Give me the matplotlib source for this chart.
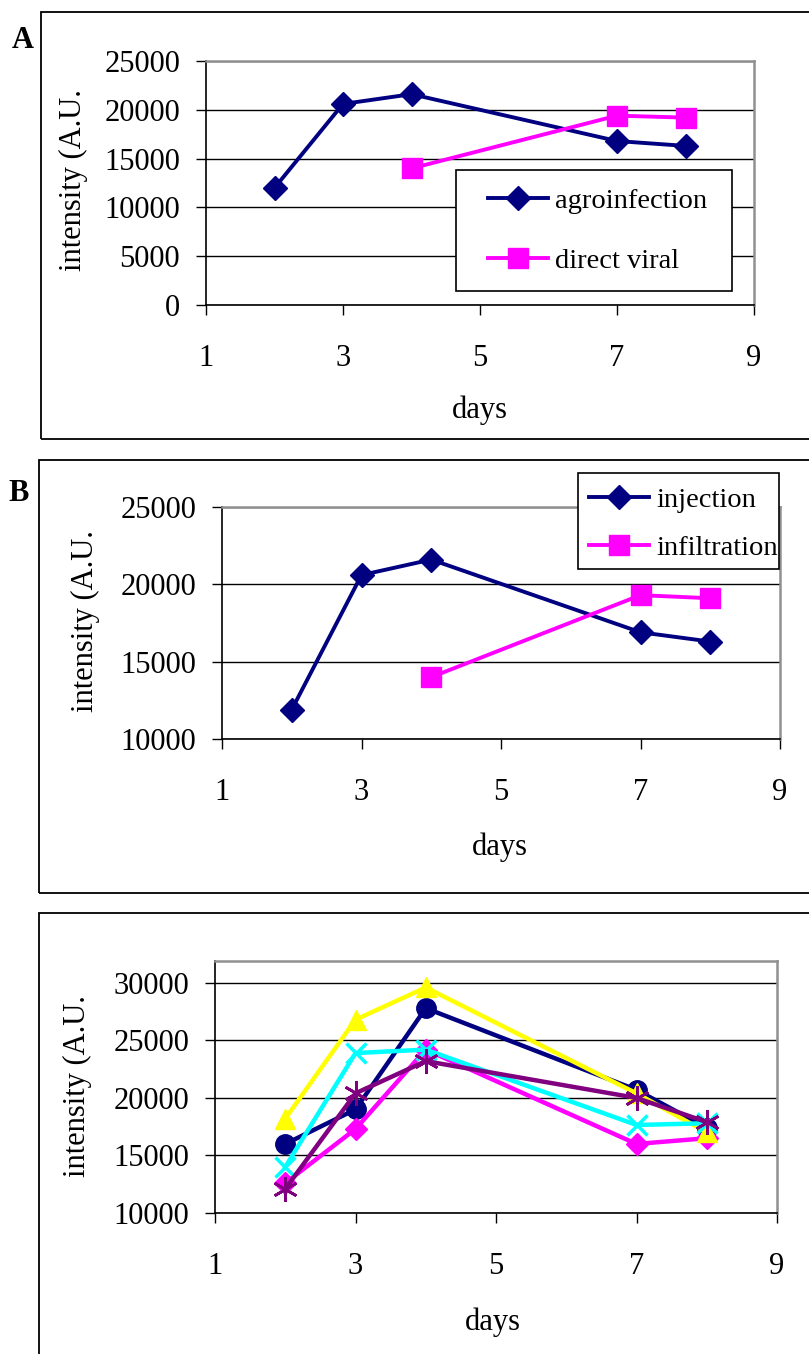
import matplotlib
matplotlib.use("Agg")
import matplotlib.pyplot as plt
from matplotlib.patches import Rectangle

# data
dias_a = [2, 3, 4, 7, 8]
agroinfection = [12000, 20600, 21600, 16800, 16300]
dias_viral = [4, 7, 8]
direct_viral = [14000, 19400, 19200]

dias_b = [2, 3, 4, 7, 8]
injection = [11900, 20600, 21600, 16900, 16300]
dias_infil = [4, 7, 8]
infiltration = [14000, 19300, 19100]

dias_c = [2, 3, 4, 7, 8]
serie_navy = [16000, 19000, 27800, 20700, 17400]
serie_magenta = [12600, 17300, 24200, 16000, 16500]
serie_amarilla = [18200, 26800, 29600, 20400, 17000]
serie_cyan = [14000, 23900, 24200, 17650, 17800]
serie_purpura = [12100, 20400, 23200, 20000, 17900]

xticks = [1, 3, 5, 7, 9]

plt.rcParams['font.family'] = ['Liberation Serif', 'DejaVu Serif']
plt.rcParams['font.size'] = 22

W, H = 809, 1354
fig = plt.figure(figsize=(W / 100, H / 100), dpi=100)


def rect(l, r, t, b):
    return [l / W, 1 - b / H, (r - l) / W, (b - t) / H]


def caja(l, r, t, b):
    fig.patches.append(Rectangle((l / W, 1 - b / H), (r - l) / W, (b - t) / H,
                                 transform=fig.transFigure, fill=False,
                                 ec='black', lw=1.3))


def texto(x, y, s, **kw):
    fig.text(x / W, 1 - y / H, s, ha='center', va='center', **kw)


def estilo(ax, ylim, yticks):
    ax.set_xlim(1, 9)
    ax.set_ylim(*ylim)
    ax.set_xticks(xticks)
    ax.set_yticks(yticks)
    for y in yticks:
        ax.axhline(y, color='black', lw=1.0, zorder=1)
    ax.spines['left'].set_color('black')
    ax.spines['bottom'].set_color('black')
    ax.spines['left'].set_linewidth(1.2)
    ax.spines['bottom'].set_linewidth(1.2)
    ax.spines['top'].set_color('#909090')
    ax.spines['right'].set_color('#909090')
    ax.spines['top'].set_linewidth(1.8)
    ax.spines['right'].set_linewidth(1.8)
    ax.tick_params(axis='x', direction='out', length=7.2, width=1, pad=21)
    ax.tick_params(axis='y', direction='out', length=7.2, width=1, pad=11.5)


def leyenda(ax, l, r, t, b, px, py, spacing):
    # caja de la leyenda en pixeles
    ax.add_patch(Rectangle((l / W, 1 - b / H), (r - l) / W, (b - t) / H,
                           transform=fig.transFigure, fc='white',
                           ec='black', lw=1.2, zorder=5, clip_on=False))
    leg = ax.legend(loc='upper left', bbox_to_anchor=(px / W, 1 - py / H),
                    bbox_transform=fig.transFigure, frameon=False,
                    handlelength=2.1, handletextpad=0.25, borderpad=0,
                    borderaxespad=0, labelspacing=spacing, fontsize=20.5)
    leg.set_zorder(6)


# ---------- panel A ----------
axA = fig.add_axes(rect(206, 754, 61, 305))
estilo(axA, (0, 25000), [0, 5000, 10000, 15000, 20000, 25000])
axA.plot(dias_a, agroinfection, color='#000080', lw=2.8, marker='D', ms=12,
         label='agroinfection', zorder=3)
axA.plot(dias_viral, direct_viral, color='#FF00FF', lw=2.8, marker='s', ms=14,
         label='direct viral', zorder=3)
caja(41, 830, 12, 439)
texto(23, 40, 'A', fontweight='bold')
texto(480, 410, 'days')
texto(73, 180, 'intensity (A.U.', rotation=90)
leyenda(axA, 456, 732, 170, 291, 488, 188, 1.19)

# ---------- panel B ----------
axB = fig.add_axes(rect(222, 780, 507, 739))
estilo(axB, (10000, 25000), [10000, 15000, 20000, 25000])
axB.plot(dias_b, injection, color='#000080', lw=2.8, marker='D', ms=12,
         label='injection', zorder=3)
axB.plot(dias_infil, infiltration, color='#FF00FF', lw=2.8, marker='s', ms=14,
         label='infiltration', zorder=3)
caja(39, 830, 460, 893)
texto(19, 493, 'B', fontweight='bold')
texto(500, 847, 'days')
texto(85, 621, 'intensity (A.U.', rotation=90)
leyenda(axB, 578, 779, 473, 569, 589, 487, 0.77)

# ---------- panel C ----------
axC = fig.add_axes(rect(215, 777, 961, 1213))
estilo(axC, (10000, 31900), [10000, 15000, 20000, 25000, 30000])
axC.plot(dias_c, serie_navy, color='#000080', lw=3.2, marker='o', ms=14, zorder=3)
axC.plot(dias_c, serie_magenta, color='#FF00FF', lw=3.2, marker='D', ms=11, zorder=3)
axC.plot(dias_c, serie_amarilla, color='#FFFF00', lw=3.2, marker='^', ms=15, zorder=3)
axC.plot(dias_c, serie_cyan, color='#00FFFF', lw=3.2, marker='x', ms=15, mew=2.5,
         zorder=3)
axC.plot(dias_c, serie_purpura, color='#800080', lw=3.2, marker=(6, 2, 0), ms=18,
         mew=2, zorder=3)
caja(39, 830, 913, 1370)
texto(493, 1322, 'days')
texto(77, 1086, 'intensity (A.U.', rotation=90)

fig.savefig('out.png', dpi=100)
